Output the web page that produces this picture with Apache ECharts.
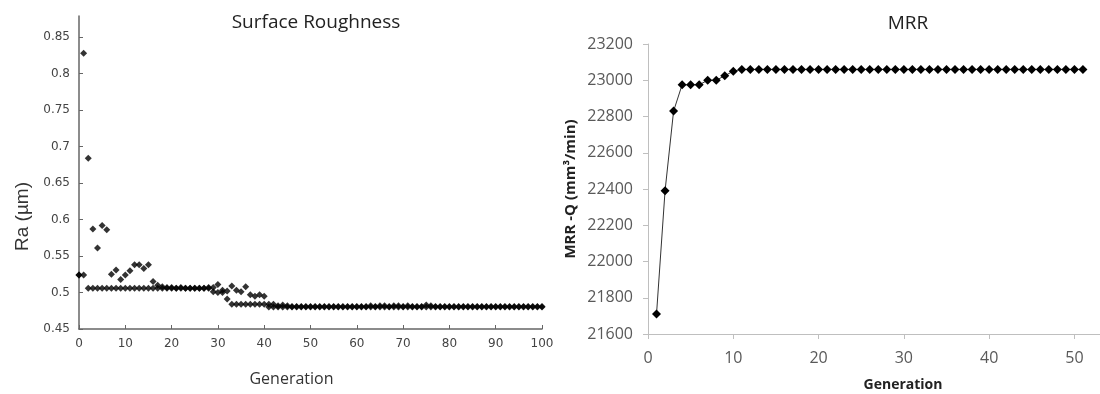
<!doctype html>
<html lang="en">
<head>
    <meta charset="UTF-8">
    <title>Surface Roughness / MRR</title>
    <script src="https://cdn.jsdelivr.net/npm/echarts@6/dist/echarts.min.js"></script>
    <style>
        html, body { margin: 0; padding: 0; background: #fff; }
        #chart { width: 1100px; height: 394px; }
    </style>
</head>
<body>
<div id="chart"></div>
<script type="text/javascript">
    // Ra per generation (0..100), upper scatter
    var raMean = [
        0.524, 0.828, 0.684, 0.587, 0.561, 0.592, 0.586, 0.525, 0.531, 0.518,
        0.524, 0.530, 0.538, 0.538, 0.533, 0.538, 0.515, 0.510, 0.508, 0.507,
        0.507, 0.506, 0.507, 0.506, 0.506, 0.506, 0.506, 0.506, 0.507, 0.507,
        0.511, 0.503, 0.502, 0.509, 0.503, 0.501, 0.508, 0.497, 0.495, 0.497,
        0.495, 0.484, 0.484, 0.482, 0.483, 0.482, 0.481, 0.481, 0.481, 0.481,
        0.481, 0.481, 0.481, 0.481, 0.481, 0.481, 0.481, 0.481, 0.481, 0.481,
        0.481, 0.481, 0.481, 0.482, 0.481, 0.482, 0.482, 0.481, 0.482, 0.482,
        0.481, 0.482, 0.481, 0.481, 0.481, 0.483, 0.482, 0.481, 0.481, 0.481,
        0.481, 0.481, 0.481, 0.481, 0.481, 0.481, 0.481, 0.481, 0.481, 0.481,
        0.481, 0.481, 0.481, 0.481, 0.481, 0.481, 0.481, 0.481, 0.481, 0.481,
        0.481
    ];
    // Ra per generation (0..100), lower line of points
    var raBest = [
        0.524, 0.524, 0.506, 0.506, 0.506, 0.506, 0.506, 0.506, 0.506, 0.506,
        0.506, 0.506, 0.506, 0.506, 0.506, 0.506, 0.506, 0.506, 0.506, 0.506,
        0.506, 0.506, 0.506, 0.506, 0.506, 0.506, 0.506, 0.506, 0.506, 0.501,
        0.500, 0.500, 0.491, 0.484, 0.484, 0.484, 0.484, 0.484, 0.484, 0.484,
        0.484, 0.480, 0.480, 0.480, 0.480, 0.480, 0.480, 0.480, 0.480, 0.480,
        0.480, 0.480, 0.480, 0.480, 0.480, 0.480, 0.480, 0.480, 0.480, 0.480,
        0.480, 0.480, 0.480, 0.480, 0.480, 0.480, 0.480, 0.480, 0.480, 0.480,
        0.480, 0.480, 0.480, 0.480, 0.480, 0.480, 0.480, 0.480, 0.480, 0.480,
        0.480, 0.480, 0.480, 0.480, 0.480, 0.480, 0.480, 0.480, 0.480, 0.480,
        0.480, 0.480, 0.480, 0.480, 0.480, 0.480, 0.480, 0.480, 0.480, 0.480,
        0.480
    ];
    // MRR per generation (1..51)
    var mrrValues = [
        21710, 22390, 22830, 22975, 22975, 22975, 23000, 23000, 23025, 23050,
        23060, 23060, 23060, 23060, 23060, 23060, 23060, 23060, 23060, 23060,
        23060, 23060, 23060, 23060, 23060, 23060, 23060, 23060, 23060, 23060,
        23060, 23060, 23060, 23060, 23060, 23060, 23060, 23060, 23060, 23060,
        23060, 23060, 23060, 23060, 23060, 23060, 23060, 23060, 23060, 23060,
        23060
    ];
    var raTicks = [0.45, 0.5, 0.55, 0.6, 0.65, 0.7, 0.75, 0.8, 0.85];
    var mrrTicks = [21600, 21800, 22000, 22200, 22400, 22600, 22800, 23000, 23200];

    // 组装成 [x, y] 数据
    var toPairs = function (arr, start) {
        return arr.map(function (v, i) { return [i + start, v]; });
    };

    var leftAxisStyle = {
        axisLine: { show: true, lineStyle: { color: '#666', width: 1.5 } },
        axisTick: { show: true, inside: true, length: 4, lineStyle: { color: '#666' } },
        axisLabel: { color: '#444', fontFamily: 'DejaVu Sans', fontSize: 12, margin: 9 },
        splitLine: { show: false }
    };
    var rightAxisStyle = {
        axisLine: { show: true, lineStyle: { color: '#bfbfbf', width: 1 } },
        axisTick: { show: true, length: 5, lineStyle: { color: '#bfbfbf' } },
        axisLabel: { color: '#595959', fontFamily: 'Open Sans', fontSize: 16, margin: 15,
                     formatter: function (v) { return String(v); } },
        splitLine: { show: false }
    };

    var myChart = echarts.init(document.getElementById('chart'));
    var option = {
        animation: false,
        backgroundColor: '#fff',
        title: [
            { text: 'Surface Roughness', left: 311, top: 8, textAlign: 'center',
              textStyle: { fontFamily: 'Open Sans', fontSize: 19, fontWeight: 'normal', color: '#222' } },
            { text: 'MRR', left: 903, top: 9, textAlign: 'center',
              textStyle: { fontFamily: 'Open Sans', fontSize: 19, fontWeight: 'normal', color: '#222' } }
        ],
        grid: [
            { left: 79, right: 558, top: 16, bottom: 65, outerBoundsMode: 'none' },
            { left: 648, right: 0, top: 44, bottom: 60, outerBoundsMode: 'none' }
        ],
        xAxis: [
            echarts.util.merge({
                type: 'value', gridIndex: 0, min: 0, max: 100, interval: 10,
                name: 'Generation', nameLocation: 'middle', nameGap: 42,
                nameTextStyle: { fontFamily: 'Open Sans', fontSize: 16, color: '#333', padding: [0, 38, 0, 0] }
            }, leftAxisStyle, true),
            echarts.util.merge({
                type: 'value', gridIndex: 1, min: 0, max: 53, interval: 10,
                name: 'Generation', nameLocation: 'middle', nameGap: 44,
                nameTextStyle: { fontFamily: 'Open Sans', fontSize: 14, fontWeight: 'bold', color: '#222', padding: [0, 0, 0, 58] }
            }, rightAxisStyle, true)
        ],
        yAxis: [
            echarts.util.merge({
                type: 'value', gridIndex: 0, min: raTicks[0], max: 0.879, interval: 0.05,
                name: 'Ra (µm)', nameLocation: 'middle', nameGap: 47,
                nameTextStyle: { fontFamily: 'Liberation Sans', fontSize: 19, color: '#333', padding: [0, 88, 0, 0] }
            }, leftAxisStyle, true),
            echarts.util.merge({
                type: 'value', gridIndex: 1, min: mrrTicks[0], max: mrrTicks[mrrTicks.length - 1], interval: 200,
                name: 'MRR -Q (mm³/min)', nameLocation: 'middle', nameGap: 70,
                nameTextStyle: { fontFamily: 'Open Sans', fontSize: 15, fontWeight: 'bold', color: '#222' }
            }, rightAxisStyle, true)
        ],
        series: [
            {
                type: 'scatter', xAxisIndex: 0, yAxisIndex: 0,
                symbol: 'diamond', symbolSize: 7,
                itemStyle: { color: '#000' },
                data: toPairs(raMean, 0)
            },
            {
                type: 'scatter', xAxisIndex: 0, yAxisIndex: 0,
                symbol: 'diamond', symbolSize: 7,
                itemStyle: { color: '#000' },
                data: toPairs(raBest, 0)
            },
            {
                type: 'line', xAxisIndex: 1, yAxisIndex: 1,
                symbol: 'diamond', symbolSize: 9,
                itemStyle: { color: '#000' },
                lineStyle: { color: '#333', width: 1 },
                data: toPairs(mrrValues, 1)
            }
        ]
    };
    option.xAxis[0].axisLabel.showMaxLabel = true;
    option.xAxis[1].axisLabel.showMaxLabel = false;
    option.xAxis[1].axisLabel.margin = 16;
    option.yAxis[0].axisLabel.showMaxLabel = false;
    myChart.setOption(option);
</script>
</body>
</html>
